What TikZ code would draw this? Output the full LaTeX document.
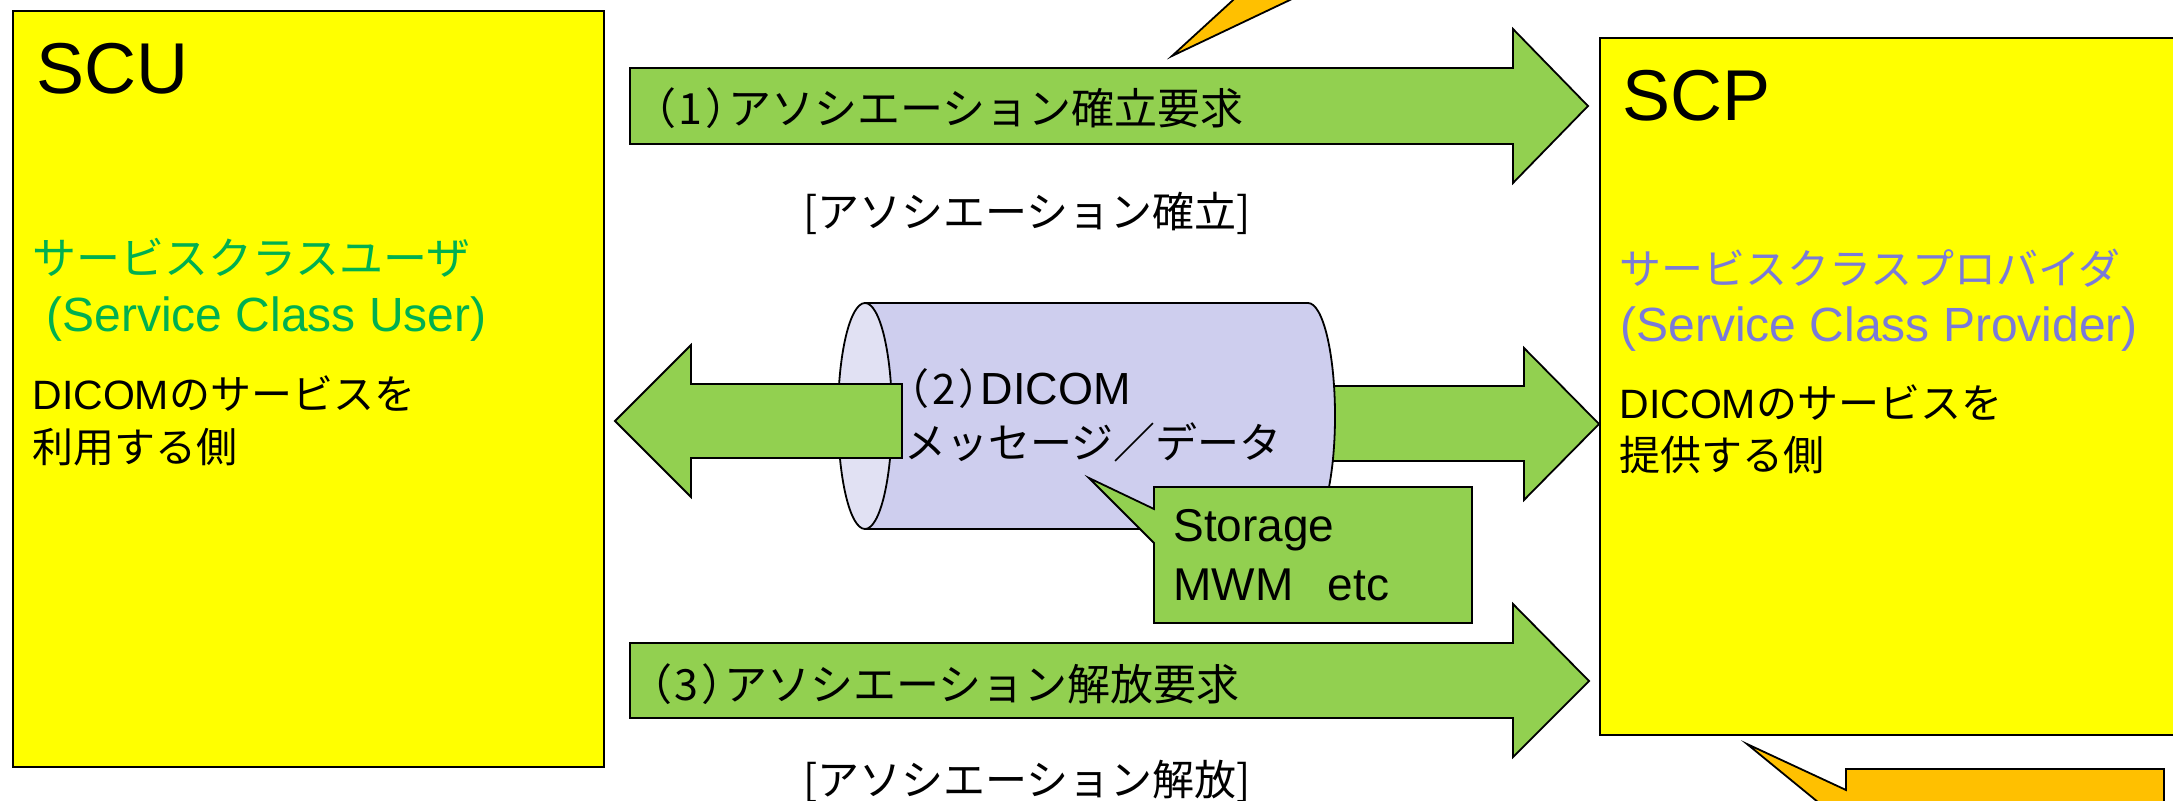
\documentclass[tikz,border=0pt]{standalone}
\usepackage{fontspec}
\setmainfont{Liberation Sans}
\newfontfamily\jpfont{Noto Sans CJK JP}
\newfontfamily\jppalt[RawFeature=+palt]{Noto Sans CJK JP}
\newcommand{\kakko}[1]{{\jppalt （}\kern2pt{\jpfont #1}\kern2pt{\jppalt ）}}
\definecolor{boxyellow}{RGB}{255,255,0}
\definecolor{arrowgreen}{RGB}{146,208,80}
\definecolor{calloutorange}{RGB}{255,192,0}
\definecolor{canbody}{RGB}{206,206,238}
\definecolor{cancap}{RGB}{225,225,243}
\definecolor{usergreen}{RGB}{0,176,80}
\definecolor{providerpurple}{RGB}{122,122,216}
\tikzset{
  outline/.style={draw=black, line width=0.9pt},
  yellowbox/.style={outline, fill=boxyellow},
  greenarrow/.style={outline, fill=arrowgreen},
  orangecall/.style={outline, fill=calloutorange},
  txt/.style={anchor=base west, inner sep=0pt, font=\fontsize{#1}{#1}\selectfont},
}
\begin{document}
\begin{tikzpicture}[x=0.5pt,y=0.5pt,yscale=-1,xscale=1]
        \useasboundingbox (0,0) rectangle (2173,801);
        \clip (0,0) rectangle (2173,801);
        %Shape: Rectangle [SCU]
        \draw [yellowbox] (13,11) rectangle (604,767);
        %Shape: Rectangle [SCP]
        \draw [yellowbox] (1600,38) rectangle (2190,735);
        %Shape: Callout (only its pointer is in the frame)
        \draw [orangecall] (1172,56) -- (1255,-20) -- (1332,-20) -- cycle;
        %Shape: Callout
        \draw [orangecall] (1747,744) -- (1846,790) -- (1846,769) -- (2164,769) -- (2164,840) -- (1846,840) -- (1846,825) -- cycle;
        %Right Arrow
        \draw [greenarrow] (630,68) -- (1513,68) -- (1513,29) -- (1588,106) -- (1513,183) -- (1513,144) -- (630,144) -- cycle;
        %Right Arrow
        \draw [greenarrow] (630,643) -- (1513,643) -- (1513,604) -- (1589,681) -- (1513,757) -- (1513,718) -- (630,718) -- cycle;
        %Right Arrow
        \draw [greenarrow] (1320,386) -- (1524,386) -- (1524,348) -- (1599,424) -- (1524,500) -- (1524,461) -- (1320,461) -- cycle;
        %Shape: Can
        \draw [outline, fill=canbody] (865,303) -- (1308,303) arc [start angle=-90, end angle=90, x radius=27, y radius=113] -- (865,529) -- cycle;
        \draw [outline, fill=cancap] (865,416) ellipse [x radius=27, y radius=113];
        %Left Arrow
        \draw [greenarrow] (902,384) -- (691,384) -- (691,345) -- (615,421) -- (691,497) -- (691,458) -- (902,458) -- cycle;
        %Shape: Callout
        \draw [greenarrow] (1154,487) -- (1472,487) -- (1472,623) -- (1154,623) -- (1154,543) -- (1089,478) -- (1154,509) -- cycle;

        % Text Node
        \draw (36,94) node [txt=36pt] (scutitle) {SCU};
        % Text Node
        \draw (32,275) node [txt=22pt, text=usergreen] (scujp) {\jpfont サービスクラスユーザ};
        % Text Node
        \draw (46,332) node [txt=24pt, text=usergreen] (scuen) {(Service Class User)};
        % Text Node
        \draw (32,410) node [txt=20.5pt] (scudesc) {DICOM{\jpfont のサービスを}};
        % Text Node
        \draw (32,463) node [txt=20.5pt] (scuside) {\jpfont 利用する側};
        % Text Node
        \draw (1622,121) node [txt=36pt] (scptitle) {SCP};
        % Text Node
        \draw (1619,285) node [txt=21pt, text=providerpurple] (scpjp) {\jpfont サービスクラスプロバイダ};
        % Text Node
        \draw (1620,342) node [txt=24pt, text=providerpurple] (scpen) {(Service Class Provider)};
        % Text Node
        \draw (1619,419) node [txt=20.5pt] (scpdesc) {DICOM{\jpfont のサービスを}};
        % Text Node
        \draw (1619,471) node [txt=20.5pt] (scpside) {\jpfont 提供する側};
        % Text Node
        \draw (653,125) node [txt=21.5pt] (assocreq) {\kakko{1}{\jpfont アソシエーション確立要求}};
        % Text Node
        \draw (803,228) node [txt=21pt] (assocok) {\jpfont [アソシエーション確立]};
        % Text Node
        \draw (907,405) node [txt=21pt] (dicomlbl) {\kakko{2}{\fontsize{22.5pt}{22.5pt}\selectfont DICOM}};
        % Text Node
        \draw (904,459) node [txt=21pt] (msglbl) {\jpfont メッセージ／データ};
        % Text Node
        \draw (649,700) node [txt=21.5pt] (releasereq) {\kakko{3}{\jpfont アソシエーション解放要求}};
        % Text Node
        \draw (803,795) node [txt=21pt] (releaseok) {\jpfont [アソシエーション解放]};
        % Text Node
        \draw (1173,542) node [txt=23pt] (svcstorage) {Storage};
        % Text Node
        \draw (1173,601) node [txt=23pt] (svcmwm) {MWM\hspace{0.75em}etc};
    \end{tikzpicture}
\end{document}
